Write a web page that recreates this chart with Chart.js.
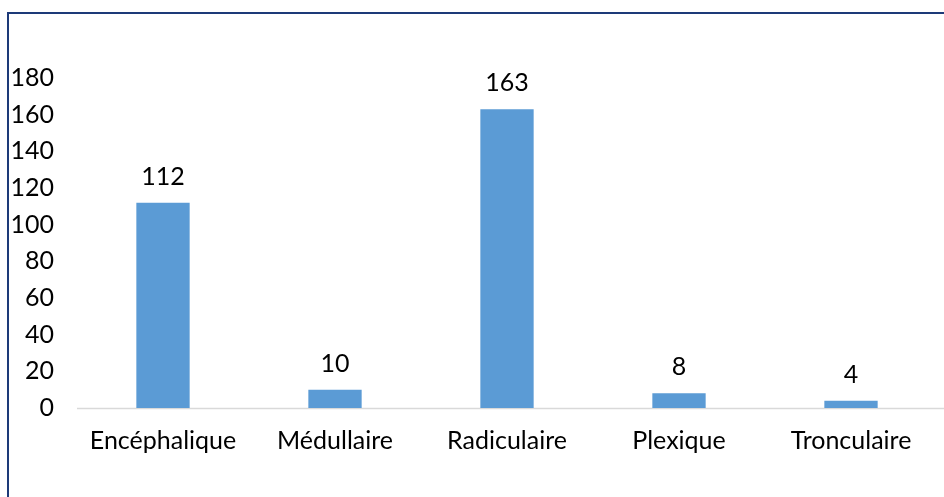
<!DOCTYPE html>
<html>
<head>
<meta charset="utf-8">
<script src="https://cdn.jsdelivr.net/npm/chart.js@4"></script>
<style>
  html, body { margin: 0; padding: 0; background: #fff; }
  #wrap { position: relative; width: 944px; height: 497px; overflow: hidden; }
  #frame { position: absolute; left: 7px; top: 12px; width: 960px; height: 500px;
           border-left: 2px solid #1d3a78; border-top: 2px solid #1d3a78; }
  canvas { position: absolute; left: 0; top: 0; }
</style>
</head>
<body>
<div id="wrap">
  <div id="frame"></div>
  <canvas id="myChart" width="944" height="497"></canvas>
</div>
<script>
const categories = ['Encéphalique', 'Médullaire', 'Radiculaire', 'Plexique', 'Tronculaire'];
const values = [112, 10, 163, 8, 4];
const yTicks = [0, 20, 40, 60, 80, 100, 120, 140, 160, 180];

const FONT = 'Lato, "Open Sans", sans-serif';
const FSIZE = 25;

// value labels above bars
const barLabels = {
  id: 'barLabels',
  afterDatasetsDraw(chart) {
    const ctx = chart.ctx;
    ctx.save();
    ctx.font = FSIZE + 'px ' + FONT;
    ctx.fillStyle = '#000';
    ctx.textAlign = 'center';
    ctx.textBaseline = 'middle';
    chart.getDatasetMeta(0).data.forEach((bar, i) => {
      ctx.fillText(values[i], bar.x, bar.y - 26);
    });
    ctx.restore();
  }
};

// baseline running to the right edge
const baseLine = {
  id: 'baseLine',
  beforeDatasetsDraw(chart) {
    const ctx = chart.ctx;
    const y = Math.round(chart.scales.y.getPixelForValue(0)) + 0.5;
    ctx.save();
    ctx.strokeStyle = '#d9d9d9';
    ctx.lineWidth = 1.5;
    ctx.beginPath();
    ctx.moveTo(chart.chartArea.left, y);
    ctx.lineTo(chart.width, y);
    ctx.stroke();
    ctx.restore();
  }
};

const ctx = document.getElementById('myChart');

new Chart(ctx, {
  type: 'bar',
  data: {
    labels: categories,
    datasets: [{
      data: values,
      backgroundColor: '#5b9bd5',
      categoryPercentage: 1,
      barPercentage: 0.31
    }]
  },
  plugins: [barLabels, baseLine],
  options: {
    responsive: false,
    animation: false,
    layout: { padding: { left: 10, right: 7, top: 78, bottom: 39 } },
    plugins: { legend: { display: false }, tooltip: { enabled: false } },
    scales: {
      x: {
        grid: { display: false },
        border: { display: false },
        ticks: { color: '#000', font: { family: FONT, size: FSIZE }, padding: 10, maxRotation: 0 },
        afterFit(s) { s.height = 50; }
      },
      y: {
        min: 0,
        max: 180,
        grid: { display: false },
        border: { display: false },
        afterBuildTicks(s) { s.ticks = yTicks.map(v => ({ value: v })); },
        ticks: { color: '#000', font: { family: FONT, size: FSIZE }, padding: 15 },
        afterFit(s) { s.width = 67; }
      }
    }
  }
});
</script>
</body>
</html>
